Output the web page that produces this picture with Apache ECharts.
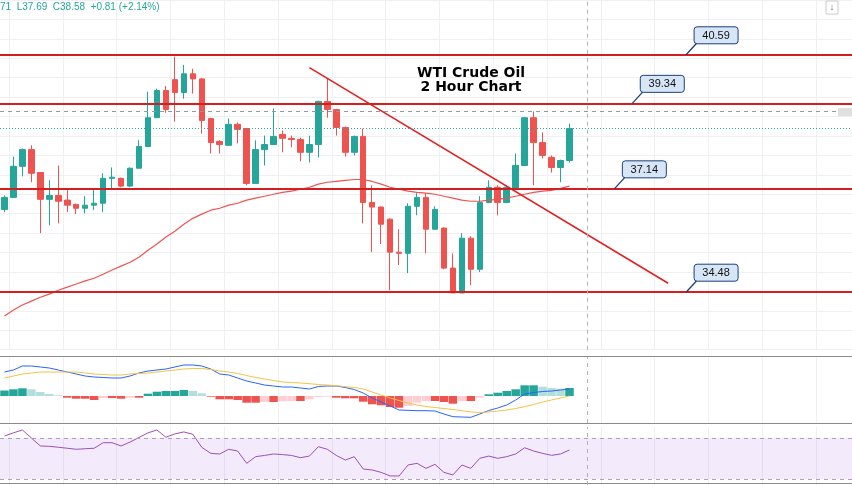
<!DOCTYPE html>
<html><head><meta charset="utf-8">
<script src="https://cdn.jsdelivr.net/npm/echarts@6/dist/echarts.min.js"></script>
<style>html,body{margin:0;padding:0;background:#fff}#c{width:852px;height:485px}</style>
</head><body><div id="c"></div>
<script>
// candles: [open, close, low, high]
const candles = [
[36.61,36.92,36.54,36.97],[36.92,37.72,36.92,37.97],[37.72,38.15,37.46,38.18],[38.15,37.54,37.31,38.26],
[37.56,36.87,36.00,37.56],[36.87,36.97,36.20,37.36],[36.97,36.82,36.25,37.74],[36.85,36.72,36.54,37.15],
[36.74,36.64,36.49,36.76],[36.64,36.72,36.51,36.95],[36.72,36.77,36.59,37.15],[36.77,37.41,36.54,37.54],
[37.41,37.44,37.15,37.69],[37.41,37.21,37.18,37.43],[37.21,37.67,37.18,37.69],[37.67,38.23,37.67,38.39],
[38.23,38.97,38.23,39.64],[38.97,39.67,38.97,39.72],[39.67,39.18,39.10,39.79],[39.95,39.62,38.87,40.54],
[39.62,40.10,39.46,40.33],[40.10,39.97,39.59,40.23],[39.97,38.90,38.56,39.99],[38.95,38.33,38.05,38.97],
[38.36,38.28,38.05,38.39],[38.26,38.80,38.26,38.95],[38.80,38.67,38.31,38.85],[38.69,37.28,37.23,38.71],
[37.28,38.15,37.28,38.39],[38.15,38.28,37.74,38.51],[38.28,38.49,38.28,39.21],[38.54,38.44,38.08,38.64],
[38.44,38.41,38.21,38.51],[38.41,38.08,37.85,38.46],[38.08,38.28,37.82,38.51],[38.28,39.39,37.95,39.41],
[39.39,39.18,38.97,39.97],[39.18,38.72,38.51,39.20],[38.72,38.08,37.97,38.74],[38.08,38.49,38.00,38.51],
[38.49,36.79,36.25,38.69],[36.79,36.67,35.51,37.23],[36.67,36.23,35.72,36.69],[36.36,35.51,34.53,36.38],
[35.51,35.48,35.18,36.10],[35.48,36.69,34.97,36.77],[36.69,36.92,36.46,37.03],[36.92,36.10,35.48,37.03],
[36.10,36.61,36.08,36.69],[36.13,35.10,35.07,36.15],[35.10,34.46,34.46,35.48],[34.46,35.87,34.46,36.00],
[35.87,35.07,34.66,35.92],[35.07,36.79,35.00,36.95],[36.79,37.18,36.77,37.36],[37.18,36.79,36.46,37.23],
[36.79,37.18,36.77,37.23],[37.15,37.74,37.15,38.05],[37.74,38.97,37.74,38.99],[38.97,38.33,37.23,39.13],
[38.33,38.00,37.92,38.59],[37.95,37.69,37.56,38.00],[37.69,37.87,37.31,37.89],[37.87,38.69,37.82,38.82]];
const maValues = [33.87,34.02,34.15,34.25,34.35,34.43,34.53,34.61,34.69,34.77,34.84,34.94,35.05,35.15,35.25,35.38,
35.56,35.72,35.90,36.05,36.23,36.38,36.49,36.59,36.64,36.72,36.77,36.85,36.90,36.95,37.00,37.05,37.08,37.13,37.18,
37.26,37.31,37.33,37.36,37.38,37.38,37.33,37.26,37.18,37.13,37.08,37.05,37.03,37.00,36.95,36.90,36.85,36.82,36.82,
36.85,36.87,36.90,36.95,37.00,37.05,37.08,37.10,37.15,37.21];
const macdLine = [2.4,2.6,3.0,3.0,2.9,2.8,2.6,2.4,2.2,2.0,1.9,1.85,1.8,1.8,2.0,2.3,2.5,2.6,2.7,2.9,3.1,3.1,3.0,2.7,2.2,
2.1,1.8,1.5,1.3,1.1,1.0,0.9,0.9,0.8,0.7,0.95,1.0,1.0,0.85,0.65,0.3,-0.2,-0.6,-1.0,-1.4,-1.43,-1.47,-1.47,-1.5,-1.8,
-2.07,-2.1,-2.13,-1.8,-1.45,-1.2,-0.9,-0.4,0.2,0.35,0.45,0.5,0.6,0.7];
const signalLine = [1.8,2.0,2.2,2.3,2.4,2.4,2.4,2.4,2.4,2.3,2.2,2.15,2.1,2.1,2.2,2.25,2.3,2.4,2.5,2.6,2.7,2.75,2.75,
2.65,2.5,2.4,2.25,2.05,1.85,1.7,1.55,1.4,1.35,1.3,1.23,1.15,1.1,1.02,0.94,0.85,0.7,0.4,0.1,-0.2,-0.45,-0.7,-0.9,
-1.05,-1.15,-1.25,-1.35,-1.47,-1.6,-1.65,-1.6,-1.5,-1.4,-1.25,-1.07,-0.85,-0.6,-0.4,-0.2,0];
const histValues = [0.55,0.67,0.77,0.67,0.4,0.2,0.07,-0.17,-0.27,-0.27,-0.4,-0.2,-0.2,-0.27,-0.17,-0.17,0.23,0.43,0.5,
0.5,0.6,0.5,0.27,-0.07,-0.33,-0.33,-0.4,-0.67,-0.67,-0.6,-0.6,-0.53,-0.5,-0.5,-0.33,-0.1,-0.07,-0.17,-0.23,-0.23,
-0.57,-0.83,-0.93,-1.1,-1.17,-1.0,-0.67,-0.5,-0.5,-0.6,-0.77,-0.5,-0.5,-0.17,0.17,0.33,0.5,0.67,1.07,1.07,0.93,0.8,0.73,0.8];
const rsiValues = [72,75,77.8,70,62.2,61.9,61,60,59,59.5,60,65.4,65.4,62.2,66,70.5,75,77.8,70.7,74,75.9,73.6,60.9,55,
54.4,59,57.3,45.3,51.8,53,54.4,53.8,53,50.8,52.4,61.5,59,53,48.5,51.8,39.8,38.8,36.5,33,33,43.7,45.3,40.4,44.3,36.5,
34,43.7,40.4,50.2,52.4,50.2,51.8,54.4,60.5,57.3,55,53.1,54.4,58.3];
const levels = [40.59, 39.34, 37.14, 34.48];
const calloutAnchors = [76.4, 69.7, 68.0, 76.2];
const trendLine = [[34, 40.26], [74, 34.71]];
const titleLines = ['WTI Crude Oil', '2 Hour Chart'];
const tickerText = '71  L37.69  C38.58  +0.81 (+2.14%)';

const N = 95;
const cats = Array.from({length: N}, (_, i) => String(i));
const up = '#26a69a', down = '#ef5350';
const splitX = {show: true, interval: (i) => i % 6 === 1, lineStyle: {color: '#eef0f3'}};
const xBase = {type: 'category', data: cats, axisLine: {show: false}, axisTick: {show: false}, axisLabel: {show: false}, splitLine: splitX};

const histColored = histValues.map((v, i) => {
  const p = i > 0 ? histValues[i - 1] : v;
  let c;
  if (v >= 0) c = v >= p ? up : '#b2dfdb'; else c = v <= p ? down : '#ffcdd2';
  return {value: v, itemStyle: {color: c}};
});

const chart = echarts.init(document.getElementById('c'));
chart.setOption({
  animation: false,
  grid: [
    {left: 0, right: 0, top: -0.8, height: 350.5},
    {left: 0, right: 0, top: 357, height: 66},
    {left: 0, right: 0, top: 427, height: 58}
  ],
  xAxis: [Object.assign({gridIndex: 0}, xBase), Object.assign({gridIndex: 1}, xBase), Object.assign({gridIndex: 2}, xBase)],
  yAxis: [
    {gridIndex: 0, min: 33, max: 42, interval: 0.5, show: true, axisLabel: {show: false}, axisLine: {show: false}, axisTick: {show: false}, splitLine: {lineStyle: {color: '#eef0f3'}}},
    {gridIndex: 1, min: -2.7, max: 3.9, axisLabel: {show: false}, axisLine: {show: false}, axisTick: {show: false}, splitLine: {show: false}},
    {gridIndex: 2, min: 24.2, max: 80.7, axisLabel: {show: false}, axisLine: {show: false}, axisTick: {show: false}, splitLine: {show: false}}
  ],
  series: [
    {type: 'candlestick', xAxisIndex: 0, yAxisIndex: 0, data: candles, barWidth: 6,
     itemStyle: {color: up, color0: down, borderColor: up, borderColor0: down},
     markLine: {silent: true, symbol: 'none', label: {show: false},
       data: levels.map(v => ({yAxis: v, lineStyle: {color: '#d71e1e', width: 2, type: 'solid'}}))
         .concat([{yAxis: 39.13, lineStyle: {color: '#9598a1', width: 1, type: [4, 4]}},
                  {yAxis: 38.69, lineStyle: {color: '#26a69a', width: 1, type: [1, 2]}},
                  {xAxis: '65', lineStyle: {color: '#b0b3ba', width: 1, type: [4, 4]}}])}},
    {type: 'line', xAxisIndex: 0, yAxisIndex: 0, data: maValues, symbol: 'none', lineStyle: {color: '#ef5350', width: 1.2}},
    {type: 'line', xAxisIndex: 0, yAxisIndex: 0, data: trendLine, symbol: 'none', lineStyle: {color: '#e02020', width: 1.5}},
    {type: 'bar', xAxisIndex: 1, yAxisIndex: 1, data: histColored, barWidth: 8.5,
     markLine: {silent: true, symbol: 'none', label: {show: false}, data: [{xAxis: '65', lineStyle: {color: '#b0b3ba', type: [4, 4]}}]}},
    {type: 'line', xAxisIndex: 1, yAxisIndex: 1, data: macdLine, symbol: 'none', lineStyle: {color: '#2962ff', width: 1}},
    {type: 'line', xAxisIndex: 1, yAxisIndex: 1, data: signalLine, symbol: 'none', lineStyle: {color: '#f5c342', width: 1}},
    {type: 'line', xAxisIndex: 2, yAxisIndex: 2, data: rsiValues, symbol: 'none', lineStyle: {color: '#9c4fb5', width: 1},
     markArea: {silent: true, itemStyle: {color: 'rgba(156,80,230,0.12)'}, data: [[{yAxis: 30}, {yAxis: 70}]]},
     markLine: {silent: true, symbol: 'none', label: {show: false}, lineStyle: {color: '#b39ac0', type: [4, 4], width: 1},
       data: [{yAxis: 30}, {yAxis: 70}, {xAxis: '65', lineStyle: {color: '#b0b3ba'}}]}}
  ]
});

const g = [];
g.push({type: 'line', shape: {x1: 0, y1: 356.5, x2: 852, y2: 356.5}, style: {stroke: '#8a8a8a', lineWidth: 1}});
g.push({type: 'line', shape: {x1: 0, y1: 423.5, x2: 852, y2: 423.5}, style: {stroke: '#8a8a8a', lineWidth: 1}});
g.push({type: 'line', shape: {x1: 0, y1: 483.5, x2: 852, y2: 483.5}, style: {stroke: '#8a8a8a', lineWidth: 1}});
levels.forEach((v, i) => {
  const p = chart.convertToPixel({xAxisIndex: 0, yAxisIndex: 0}, [calloutAnchors[i], v]);
  const bx = p[0] + 8, by = p[1] - 28;
  g.push({type: 'line', z: 10, shape: {x1: p[0], y1: p[1], x2: bx + 3, y2: by + 16}, style: {stroke: '#1e3f7a', lineWidth: 1.3}});
  g.push({type: 'rect', z: 11, shape: {x: bx, y: by, width: 44, height: 17, r: 3}, style: {fill: '#d6e6f7', stroke: '#1e3f7a', lineWidth: 1}});
  g.push({type: 'text', z: 12, style: {x: bx + 22, y: by + 9, text: v.toFixed(2), align: 'center', verticalAlign: 'middle', fill: '#111', font: '11px "Liberation Sans", Arial'}});
});
titleLines.forEach((t, i) => g.push({type: 'text', z: 12, style: {x: 471, y: 73 + i * 14, text: t, align: 'center', verticalAlign: 'middle', fill: '#000', font: 'bold 14px "DejaVu Sans", Arial'}}));
g.push({type: 'text', z: 12, style: {x: 0, y: 7, text: tickerText, verticalAlign: 'middle', fill: '#26a69a', font: '10px "Liberation Sans", Arial'}});
g.push({type: 'rect', z: 12, shape: {x: 826, y: 1, width: 12, height: 13}, style: {fill: '#fff', stroke: '#ccc'}});
g.push({type: 'text', z: 13, style: {x: 832, y: 8, text: '↓', align: 'center', verticalAlign: 'middle', fill: '#555', font: '9px sans-serif'}});
g.push({type: 'rect', z: 12, shape: {x: 838, y: 108, width: 14, height: 8}, style: {fill: '#e0e0e0'}});
chart.setOption({graphic: g});
</script></body></html>
